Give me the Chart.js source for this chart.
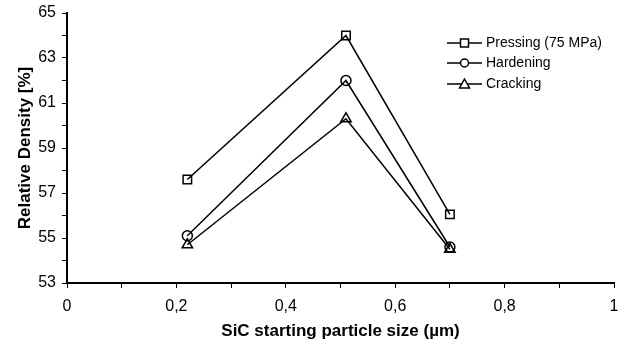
<!DOCTYPE html>
<html>
<head>
<meta charset="utf-8">
<script src="https://cdn.jsdelivr.net/npm/chart.js@4.4.0/dist/chart.umd.min.js"></script>
<style>
  html, body { margin: 0; padding: 0; background: #fff; }
  #wrap { width: 624px; height: 344px; }
</style>
</head>
<body>
<div id="wrap"><canvas id="density"></canvas></div>
<script>
/* data */
const particleSize = [0.22, 0.51, 0.70];
const pressingVals = [57.6, 64.0, 56.05];
const hardeningVals = [55.1, 62.0, 54.6];
const crackingVals = [54.7, 60.3, 54.5];
const seriesNames = ["Pressing (75 MPa)", "Hardening", "Cracking"];
const seriesMarkers = ["rect", "circle", "triangle"];

const FONT = "'Liberation Sans', Arial, sans-serif";

function toPoints(vals) {
    return particleSize.map((x, i) => ({ x: x, y: vals[i] }));
}

function makeSet(label, vals, marker) {
    return {
        label: label,
        data: toPoints(vals),
        showLine: true,
        borderColor: "#000",
        borderWidth: 1.5,
        pointStyle: marker,
        pointRadius: marker === "circle" ? 5 : 6,
        pointBackgroundColor: "rgba(255,255,255,0)",
        pointBorderColor: "#000",
        pointBorderWidth: 1.5,
    };
}

// legend drawn inside the plot, line + marker + text
const innerLegend = {
    id: "innerLegend",
    afterDraw(chart) {
        const ctx = chart.ctx;
        const x0 = 447, x1 = 482, tx = 486;
        const rows = [43, 63, 84];
        ctx.save();
        ctx.font = "14px " + FONT;
        ctx.fillStyle = "#000";
        ctx.textBaseline = "middle";
        seriesNames.forEach((name, i) => {
            const y = rows[i];
            ctx.strokeStyle = "#000";
            ctx.lineWidth = 1.5;
            ctx.beginPath();
            ctx.moveTo(x0, y);
            ctx.lineTo(x1, y);
            ctx.stroke();
            const mx = (x0 + x1) / 2;
            ctx.fillStyle = "#fff";
            if (seriesMarkers[i] === "rect") {
                ctx.fillRect(mx - 4, y - 4, 8, 8);
                ctx.strokeRect(mx - 4, y - 4, 8, 8);
            } else if (seriesMarkers[i] === "circle") {
                ctx.beginPath();
                ctx.arc(mx, y, 4, 0, Math.PI * 2);
                ctx.fill();
                ctx.stroke();
            } else {
                ctx.beginPath();
                ctx.moveTo(mx, y - 5);
                ctx.lineTo(mx + 5, y + 4);
                ctx.lineTo(mx - 5, y + 4);
                ctx.closePath();
                ctx.fill();
                ctx.stroke();
            }
            ctx.fillStyle = "#000";
            ctx.fillText(name, tx, y);
        });
        ctx.restore();
    },
};

new Chart(document.getElementById("density"), {
    type: "scatter",
    data: {
        datasets: [
            makeSet(seriesNames[0], pressingVals, seriesMarkers[0]),
            makeSet(seriesNames[1], hardeningVals, seriesMarkers[1]),
            makeSet(seriesNames[2], crackingVals, seriesMarkers[2]),
        ],
    },
    options: {
        responsive: true,
        maintainAspectRatio: false,
        animation: false,
        layout: {
            padding: { top: 13, right: 10, left: 0, bottom: 0 },
        },
        plugins: {
            legend: { display: false },
            tooltip: { enabled: false },
        },
        scales: {
            x: {
                type: "linear",
                min: 0,
                max: 1,
                afterFit: (s) => { s.height = 61; s.paddingLeft = 0; s.paddingRight = 0; },
                border: { color: "#000", width: 2 },
                grid: { display: true, drawOnChartArea: false, color: "#000", tickLength: 5 },
                ticks: {
                    stepSize: 0.1,
                    color: "#000",
                    padding: 9,
                    maxRotation: 0,
                    font: { family: FONT, size: 16 },
                    callback: function (v) {
                        const n = Math.round(v * 10);
                        if (n % 2 !== 0) return "";
                        return String(n / 10).replace(".", ",");
                    },
                },
                title: {
                    display: true,
                    text: "SiC starting particle size (µm)",
                    color: "#000",
                    font: { family: FONT, size: 17, weight: "bold" },
                    padding: { top: 4, bottom: 2 },
                },
            },
            y: {
                min: 53,
                max: 65,
                afterFit: (s) => { s.width = 67; s.paddingTop = 0; s.paddingBottom = 0; },
                border: { color: "#000", width: 2 },
                grid: { display: true, drawOnChartArea: false, color: "#000", tickLength: 5 },
                ticks: {
                    stepSize: 1,
                    color: "#000",
                    padding: 6,
                    font: { family: FONT, size: 16 },
                    callback: function (v) {
                        return (Math.round(v) % 2 === 1) ? String(v) : "";
                    },
                },
                title: {
                    display: true,
                    text: "Relative Density [%]",
                    color: "#000",
                    font: { family: FONT, size: 17, weight: "bold" },
                    padding: { top: 15, bottom: 0 },
                },
            },
        },
    },
    plugins: [innerLegend],
});
</script>
</body>
</html>
